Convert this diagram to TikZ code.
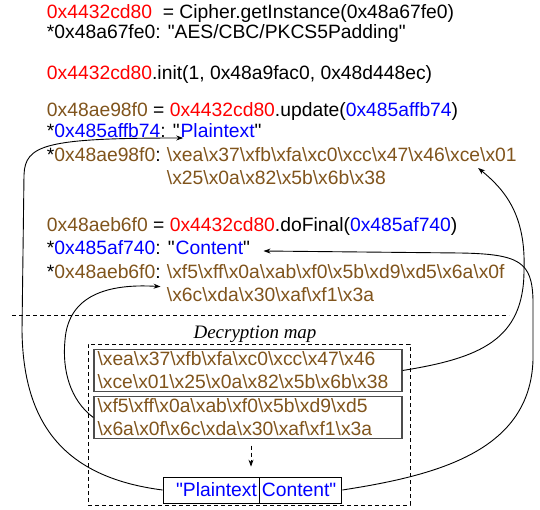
\documentclass[tikz,border=0pt]{standalone}
\usepackage{fontspec}
\setmainfont{Liberation Sans}
\newfontfamily\mapfont{Liberation Serif}
\usetikzlibrary{positioning,arrows.meta}

\definecolor{addrred}{RGB}{255,0,0}
\definecolor{addrblue}{RGB}{0,0,255}
\definecolor{bytebrown}{RGB}{128,84,28}
\newcommand{\rd}[1]{\textcolor{addrred}{#1}}
\newcommand{\bl}[1]{\textcolor{addrblue}{#1}}
\newcommand{\br}[1]{\textcolor{bytebrown}{#1}}
\newcommand{\bx}[1]{\textbackslash x#1}
\newcommand{\qt}{\textquotedbl}

\begin{document}
\begin{tikzpicture}[x=1pt,y=-1pt,>={Stealth[length=7pt,width=5pt]},line width=0.9pt,
            code/.style={anchor=base west,inner sep=0pt,font=\fontsize{19.3}{23}\selectfont},
            byte box/.style={draw=gray!60!black,line width=1.3pt,minimum width=308,minimum height=42,
                text width=301pt,align=left,inner xsep=3.5pt,inner ysep=0.5pt,
                font=\fontsize{19.3}{23}\selectfont\color{bytebrown}},
            cell/.style={draw,line width=0.9pt,minimum height=26,inner xsep=2pt,inner ysep=0pt,
                font=\fontsize{19.3}{23}\selectfont\color{addrblue}},
            sep line/.style={dashed,dash pattern=on 4pt off 3pt}]

        \useasboundingbox (0,0) rectangle (540,510);

        % Traced calls
        \node[code] (l1) at (46.5,19) {\rd{0x4432cd80}\ \ = Cipher.getInstance(0x48a67fe0)};
        \node[code] (l2) at (46.5,38.6) {*0x48a67fe0: \qt AES/CBC/PKCS5Padding\qt};
        \node[code] (l3) at (46.5,80) {\rd{0x4432cd80}.init(1, 0x48a9fac0, 0x48d448ec)};
        \node[code] (l4) at (46.5,116.5) {\br{0x48ae98f0} = \rd{0x4432cd80}.update(\bl{0x485affb74})};
        \node[code] (l5) at (46.5,138) {*\bl{0x485affb74}: \qt\mbox{}};
        \node[code] (plain) at (l5.base east) {\bl{Plaintext}\qt};
        \node[code] (l6) at (46.5,162) {*\br{0x48ae98f0}:\ \mbox{}};
        \node[code] (l6hex) at (l6.base east) {\br{\bx{ea}\bx{37}\bx{fb}\bx{fa}\bx{c0}\bx{cc}\bx{47}\bx{46}\bx{ce}\bx{01}}};
        \node[code] (l7) at ([yshift=-22.5pt]l6hex.base west) {\br{\bx{25}\bx{0a}\bx{82}\bx{5b}\bx{6b}\bx{38}}};

        \node[code] (l8) at (46.5,232) {\br{0x48aeb6f0} = \rd{0x4432cd80}.doFinal(\bl{0x485af740})};
        \node[code] (l9) at (46.5,255) {*\bl{0x485af740}: \qt\mbox{}};
        \node[code] (content) at (l9.base east) {\bl{Content}\qt};
        \node[code] (l10) at (46.5,278.6) {*\br{0x48aeb6f0}:\ \mbox{}};
        \node[code] (l10hex) at (l10.base east) {\br{\bx{f5}\bx{ff}\bx{0a}\bx{ab}\bx{f0}\bx{5b}\bx{d9}\bx{d5}\bx{6a}\bx{0f}}};
        \node[code] (l11) at ([yshift=-23pt]l10hex.base west) {\br{\bx{6c}\bx{da}\bx{30}\bx{af}\bx{f1}\bx{3a}}};

        \draw[sep line] (12,315.5) -- (509,315.5);

        % Decryption map
        \node[draw,sep line,line width=0.8pt,minimum width=322,minimum height=161] (map) at (249,424.5) {};
        \node[anchor=base,inner sep=0pt,font=\mapfont\itshape\fontsize{19}{21}\selectfont] (maptitle) at (255,338) {Decryption map};
        \node[byte box] (box1) at (248,370.5) {\bx{ea}\bx{37}\bx{fb}\bx{fa}\bx{c0}\bx{cc}\bx{47}\bx{46}\\\bx{ce}\bx{01}\bx{25}\bx{0a}\bx{82}\bx{5b}\bx{6b}\bx{38}};
        \node[byte box] (box2) at (248,417.5) {\bx{f5}\bx{ff}\bx{0a}\bx{ab}\bx{f0}\bx{5b}\bx{d9}\bx{d5}\\\bx{6a}\bx{0f}\bx{6c}\bx{da}\bx{30}\bx{af}\bx{f1}\bx{3a}};
        \node[cell,text width=92pt,align=right] (cellL) at (211,490) {\qt Plaintext};
        \node[cell,text width=78pt,align=left,anchor=west] (cellR) at (cellL.east) {Content\qt};
        \draw[->,sep line,line width=0.8pt] ([xshift=3pt,yshift=-6.5pt]box2.south) -- ([xshift=3pt,yshift=-27.5pt]box2.south);

        % Arrow ends
        \coordinate (plainIn) at ([xshift=3pt]plain.base west);
        \coordinate (bytesIn) at ([xshift=-39pt,yshift=-6pt]l6hex.base east);
        \coordinate (tailIn) at ([xshift=-6pt,yshift=15pt]l11.base west);
        \coordinate (contentIn) at ([xshift=13pt,yshift=4pt]content.base east);

        % Links back to the calls
        \draw[->] (cellL.west) .. controls (70,478) and (23,430) .. (22,330) -- (24,175)
            .. controls (25,145) and (45,138) .. (plainIn);
        \draw[->] (cellR.east) .. controls (440,475) and (530,450) .. (533,360) -- (533,300)
            .. controls (532,262) and (520,254) .. (460,253) -- (contentIn);
        \draw[->] (box1.east) .. controls (480,358) and (524,340) .. (524,270)
            .. controls (526,215) and (505,190) .. (bytesIn);
        \draw[->] (box2.west) .. controls (70,400) and (62,370) .. (65,340)
            .. controls (68,300) and (100,283) .. (tailIn);

\end{tikzpicture}
\end{document}
